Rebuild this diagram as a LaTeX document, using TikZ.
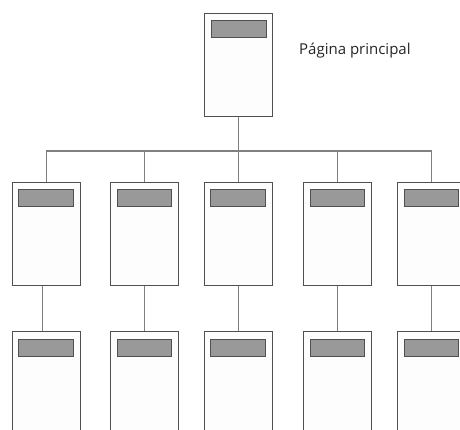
\documentclass[tikz,border=0pt]{standalone}
\usepackage{fontspec}
\setmainfont{Open Sans}
\usetikzlibrary{calc}
\definecolor{pageedge}{HTML}{505050}
\definecolor{pagefill}{HTML}{FDFDFD}
\definecolor{barfill}{HTML}{999999}
\definecolor{linkgray}{HTML}{808080}
\tikzset{
  page/.style={draw=pageedge, fill=pagefill, line width=1pt, rectangle,
    anchor=north west, minimum width=68pt, minimum height=102.7pt, inner sep=0pt},
  tallpage/.style={page, minimum height=120pt},
  headbar/.style={draw=pageedge, fill=barfill, line width=0.9pt, rectangle,
    anchor=north west, minimum width=54.7pt, minimum height=16.6pt, inner sep=0pt},
  link/.style={draw=linkgray, line width=1.3pt},
}
\begin{document}
\begin{tikzpicture}[x=1pt,y=-1pt]
  \useasboundingbox (0,0) rectangle (460,430);
  \clip (0,0) rectangle (460,430);

  % home page
  \node[page] (home) at (204,13.3) {};
  \node[headbar] (homebar) at ($(home.north west)+(7,6.7)$) {};
  \node[anchor=base west, font=\fontsize{15}{18}\selectfont, text=black!85, inner sep=0pt]
    (title) at (299,55) {Página principal};

  % second level pages
  \foreach \n/\x in {a/11.7, b/110.3, c/204, d/303.3, e/397.3} {
    \node[page] (s\n) at (\x,182.3) {};
    \node[headbar] (s\n bar) at ($(s\n.north west)+(6.3,6.7)$) {};
    \node[tallpage] (t\n) at (\x,330.7) {};
    \node[headbar] (t\n bar) at ($(t\n.north west)+(6.3,8.3)$) {};
  }

  % branching connectors
  \coordinate (hub) at ($(home.south)+(0,34)$);
  \draw[link] (home.south) -- (hub);
  \draw[link] (sa.north |- hub) -- (se.north |- hub);
  \foreach \n in {a,b,c,d,e} {
    \draw[link] (s\n.north |- hub) -- (s\n.north);
  }
  \draw[link] ([xshift=-3.5pt]sa.south) -- ([xshift=-3.5pt]ta.north);
  \foreach \n in {b,c,d,e} {
    \draw[link] (s\n.south) -- (t\n.north);
  }
\end{tikzpicture}
\end{document}
